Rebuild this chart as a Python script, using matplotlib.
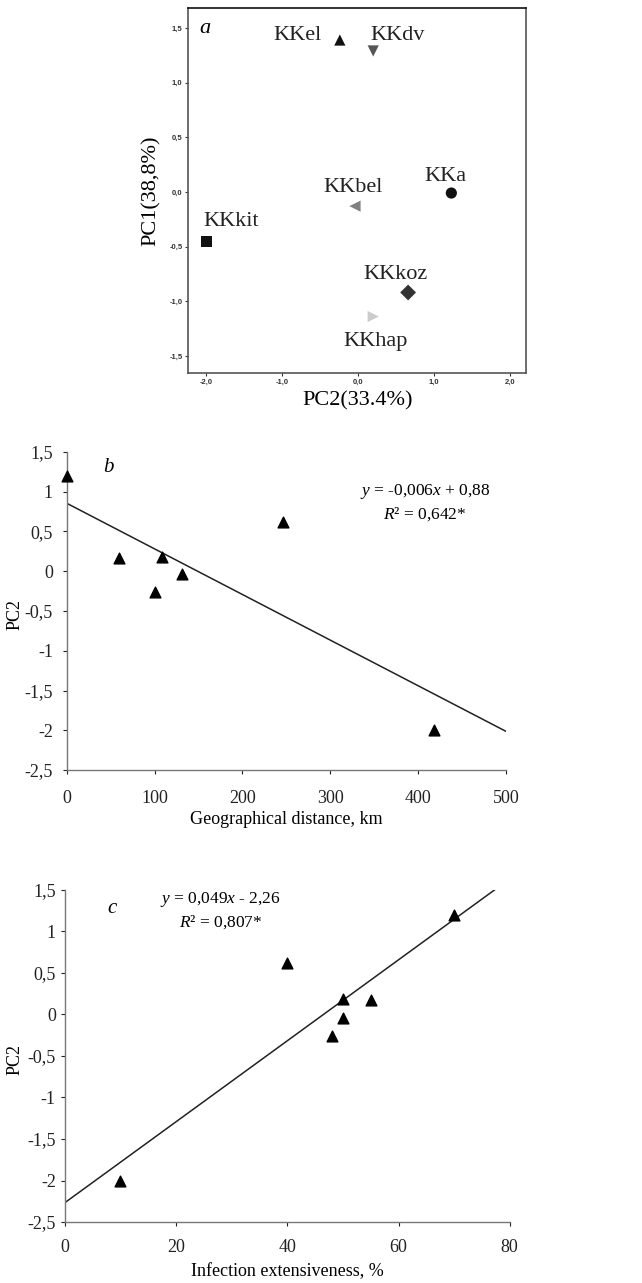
import numpy as np
import matplotlib.pyplot as plt

# ============================================
# DATA
# ============================================

# panel a: PCA scores
pop_names = ["KKel", "KKdv", "KKa", "KKbel", "KKkit", "KKkoz", "KKhap"]
pc2_scores = [-0.24, 0.20, 1.23, -0.04, -2.00, 0.66, 0.20]
pc1_scores = [1.39, 1.29, -0.01, -0.13, -0.45, -0.92, -1.14]
pop_markers = ["^", "v", "o", "<", "s", "D", ">"]
pop_colors = ["#111111", "#555555", "#111111", "#808080", "#111111", "#333333", "#cccccc"]

# panel b / c: regressions
pc2_values = [1.20, 0.17, 0.18, -0.26, -0.04, 0.62, -2.00]
geo_distance = [0, 60, 109, 101, 131, 246, 418]
infection_ext = [70, 55, 50, 48, 50, 40, 10]

a_xticks = [-2.0, -1.0, 0.0, 1.0, 2.0]
a_yticks = [-1.5, -1.0, -0.5, 0.0, 0.5, 1.0, 1.5]
pc2_ticks = [-2.5, -2, -1.5, -1, -0.5, 0, 0.5, 1, 1.5]


def comma(v, fmt):
    return (fmt % v).replace(".", ",")


serif = ["Liberation Serif", "DejaVu Serif"]
plt.rcParams["font.family"] = serif
plt.rcParams["mathtext.fontset"] = "custom"
plt.rcParams["mathtext.rm"] = "Liberation Serif"
plt.rcParams["mathtext.it"] = "Liberation Serif:italic"

fig = plt.figure(figsize=(6.42, 12.83), dpi=100)

# ============================================
# PANEL A
# ============================================

ax_a = fig.add_axes([0.293, 0.709, 0.527, 0.2845])
for n, x, y, m, c in zip(pop_names, pc2_scores, pc1_scores, pop_markers, pop_colors):
    ax_a.scatter(x, y, marker=m, s=65, color=c, edgecolors="none", zorder=3)

label_pos = {
    "KKel": (-0.80, 1.43),
    "KKdv": (0.52, 1.43),
    "KKa": (1.15, 0.14),
    "KKbel": (-0.07, 0.04),
    "KKkit": (-1.67, -0.27),
    "KKkoz": (0.49, -0.76),
    "KKhap": (0.23, -1.37),
}
for n in pop_names:
    tx, ty = label_pos[n]
    ax_a.text(tx, ty, n, fontsize=16, ha="center", va="center", color="#222222")

ax_a.text(-2.02, 1.5, "a", fontsize=16, style="italic", ha="center", va="center")

ax_a.set_xlim(-2.24, 2.22)
ax_a.set_ylim(-1.66, 1.68)
ax_a.set_xticks(a_xticks)
ax_a.set_xticklabels([comma(v, "%.1f") for v in a_xticks])
ax_a.set_yticks(a_yticks)
ax_a.set_yticklabels([comma(v, "%.1f") for v in a_yticks])
ax_a.tick_params(labelsize=5.5, length=2.5, width=0.8, colors="#333333", pad=1.5)
for lab in ax_a.get_xticklabels() + ax_a.get_yticklabels():
    lab.set_family(["Liberation Sans", "DejaVu Sans"])
    lab.set_weight("bold")
for s in ax_a.spines.values():
    s.set_color("#555555")
    s.set_linewidth(1.2)
ax_a.spines["top"].set_color("#111111")

ax_a.set_xlabel("PC2(33.4%)", fontsize=16, labelpad=4)
ax_a.set_ylabel("PC1(38,8%)", fontsize=16, labelpad=6)

# ============================================
# PANELS B, C
# ============================================


def regression_panel(rect, xs, xlim, xticks, xlabel, letter, letter_xy, eq_lines, eq_xy,
                     line_x, ylab_x, xpad, ypad, xlabpad):
    ax = fig.add_axes(rect)
    ax.scatter(xs, pc2_values, marker="^", s=60, color="black", zorder=3, clip_on=False)

    slope, intercept = np.polyfit(xs, pc2_values, 1)
    lx = np.array(line_x)
    ax.plot(lx, slope * lx + intercept, color="#222222", linewidth=1.1)

    ax.set_xlim(*xlim)
    ax.set_ylim(-2.5, 1.5)
    ax.set_xticks(xticks)
    ax.set_yticks(pc2_ticks)
    ax.set_yticklabels([("%g" % v).replace(".", ",") for v in pc2_ticks])
    ax.tick_params(labelsize=13, length=3, width=0.8, colors="#222222")
    ax.tick_params(axis="x", pad=xpad)
    ax.tick_params(axis="y", pad=ypad)
    ax.spines["top"].set_visible(False)
    ax.spines["right"].set_visible(False)
    for s in ["left", "bottom"]:
        ax.spines[s].set_color("#777777")
        ax.spines[s].set_linewidth(1.0)

    ax.set_xlabel(xlabel, fontsize=13, labelpad=xlabpad)
    ax.set_ylabel("PC2", fontsize=13, labelpad=0)
    ax.yaxis.set_label_coords(ylab_x, 0.49)

    ax.text(letter_xy[0], letter_xy[1], letter, fontsize=15, style="italic",
            ha="center", va="center")
    ax.text(eq_xy[0], eq_xy[1], eq_lines, fontsize=12.5, ha="center", va="center",
            linespacing=1.3)
    return ax


regression_panel(
    [0.104, 0.3998, 0.684, 0.248],
    geo_distance, (0, 500), [0, 100, 200, 300, 400, 500],
    "Geographical distance, km", "b", (48, 1.3),
    "$y$ = -0,006$x$ + 0,88\n$R$² = 0,642*", (408, 0.86),
    [0, 500], -0.098, 11, 7, 3,
)

regression_panel(
    [0.101, 0.0475, 0.693, 0.259],
    infection_ext, (0, 80), [0, 20, 40, 60, 80],
    "Infection extensiveness, %", "c", (8.5, 1.27),
    "$y$ = 0,049$x$ - 2,26\n$R$² = 0,807*", (28.0, 1.25),
    [0, 77.3], -0.092, 9, 3.5, 5,
)

plt.savefig("out.png", dpi=100)
